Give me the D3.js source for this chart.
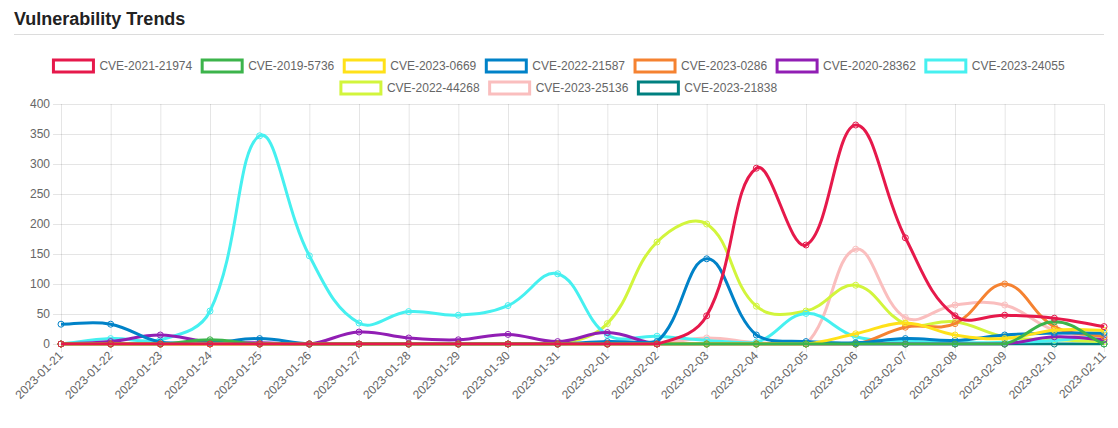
<!DOCTYPE html>
<html>
<head>
<meta charset="utf-8">
<script src="https://cdn.jsdelivr.net/npm/d3@7"></script>
<style>
  body { margin: 0; background: #fff; }
  svg { display: block; font-family: "Liberation Sans", Arial, Helvetica, sans-serif; }
  .axis .domain { display: none; }
  .axis line, .grid line { stroke: rgba(0,0,0,0.1); }
  .grid .domain { display: none; }
</style>
</head>
<body>
<div class="chart"></div>
<script>
/* global d3 */

// categories (x axis)
const dates = ['2023-01-21', '2023-01-22', '2023-01-23', '2023-01-24', '2023-01-25', '2023-01-26',
  '2023-01-27', '2023-01-28', '2023-01-29', '2023-01-30', '2023-01-31', '2023-02-01',
  '2023-02-02', '2023-02-03', '2023-02-04', '2023-02-05', '2023-02-06', '2023-02-07',
  '2023-02-08', '2023-02-09', '2023-02-10', '2023-02-11']

const yTicks = [0, 50, 100, 150, 200, 250, 300, 350, 400]

// series values, one per date
const cve2021_21974 = [0, 0, 0, 0, 0, 0, 0, 0, 0, 0, 0, 0, 0, 47, 293, 165, 365, 177, 47, 48, 43, 29]
const cve2019_5736 = [0, 0, 0, 7, 0, 0, 0, 0, 0, 0, 0, 0, 0, 0, 0, 0, 0, 0, 0, 0, 37, 0]
const cve2023_0669 = [0, 0, 0, 0, 0, 0, 0, 0, 0, 0, 0, 0, 0, 0, 0, 0, 17, 35, 15, 9, 23, 23]
const cve2022_21587 = [33, 33, 3, 2, 9, 0, 0, 0, 0, 0, 0, 4, 4, 142, 15, 4, 2, 9, 6, 15, 18, 18]
const cve2023_0286 = [0, 0, 0, 0, 0, 0, 0, 0, 0, 0, 0, 0, 0, 0, 0, 0, 0, 28, 34, 100, 29, 12]
const cve2020_28362 = [0, 4, 15, 3, 2, 0, 20, 10, 7, 16, 4, 19, 0, 0, 0, 0, 0, 0, 0, 0, 12, 7]
const cve2023_24055 = [0, 9, 7, 55, 347, 147, 35, 54, 48, 64, 117, 15, 13, 6, 3, 51, 12, 5, 2, 3, 6, 15]
const cve2022_44268 = [0, 0, 0, 0, 0, 0, 0, 0, 0, 0, 0, 34, 170, 200, 63, 55, 98, 34, 37, 12, 7, 4]
const cve2023_25136 = [0, 0, 0, 0, 0, 0, 0, 0, 0, 0, 0, 0, 0, 10, 2, 0, 158, 44, 65, 65, 23, 10]
const cve2023_21838 = [0, 0, 0, 0, 0, 0, 0, 0, 0, 0, 0, 0, 0, 0, 0, 0, 0, 0, 0, 0, 0, 0]

const series = [
  { name: 'CVE-2021-21974', values: cve2021_21974, color: '#e6194b' },
  { name: 'CVE-2019-5736', values: cve2019_5736, color: '#3cb44b' },
  { name: 'CVE-2023-0669', values: cve2023_0669, color: '#ffe119' },
  { name: 'CVE-2022-21587', values: cve2022_21587, color: '#0082c8' },
  { name: 'CVE-2023-0286', values: cve2023_0286, color: '#f58231' },
  { name: 'CVE-2020-28362', values: cve2020_28362, color: '#911eb4' },
  { name: 'CVE-2023-24055', values: cve2023_24055, color: '#46f0f0' },
  { name: 'CVE-2022-44268', values: cve2022_44268, color: '#d2f53c' },
  { name: 'CVE-2023-25136', values: cve2023_25136, color: '#fabebe' },
  { name: 'CVE-2023-21838', values: cve2023_21838, color: '#008080' }
]

const fontFamily = '"Liberation Sans", Arial, Helvetica, sans-serif'

const width = 1118
const height = 428
const margins = { top: 104, right: 14, bottom: 84, left: 61 }
const innerWidth = width - margins.left - margins.right
const innerHeight = height - margins.top - margins.bottom

const svg = d3.select('.chart')
  .append('svg')
  .attr('width', width)
  .attr('height', height)

// title + rule
svg.append('text')
  .attr('x', 14)
  .attr('y', 25)
  .attr('font-size', 18)
  .attr('font-weight', 'bold')
  .attr('fill', '#222')
  .text('Vulnerability Trends')

svg.append('line')
  .attr('x1', 14).attr('x2', 1104)
  .attr('y1', 34.5).attr('y2', 34.5)
  .attr('stroke', '#dcdcdc')

// legend, laid out in centered rows like chart.js does
const legend = svg.append('g').attr('class', 'legend')
const pad = 10, boxW = 40, boxH = 12
const items = series.map(s => {
  const t = legend.append('text')
    .attr('font-size', 12)
    .attr('fill', '#666')
    .attr('dominant-baseline', 'middle')
    .text(s.name)
  return { s, t, w: boxW + 6 + t.node().getComputedTextLength() }
})
const rows = [[]]
let rowW = 0
items.forEach((it, i) => {
  if (i > 0 && rowW + it.w + 2 * pad > width) { rows.push([]); rowW = 0 }
  rows[rows.length - 1].push(it)
  rowW += it.w + pad
})
rows.forEach((row, r) => {
  const total = d3.sum(row, d => d.w + pad)
  let x = (pad + width - total) / 2
  const y = 60 + r * 22
  row.forEach(it => {
    legend.append('rect')
      .attr('x', x).attr('y', y)
      .attr('width', boxW).attr('height', boxH)
      .attr('fill', '#fff')
      .attr('stroke', it.s.color)
      .attr('stroke-width', 3)
    it.t.attr('x', x + boxW + 6).attr('y', y + boxH / 2 + 0.5)
    x += it.w + pad
  })
})

const g = svg.append('g')
  .attr('transform', `translate(${margins.left}, ${margins.top})`)

const xScale = d3.scalePoint()
  .domain(dates)
  .range([0, innerWidth])

const yScale = d3.scaleLinear()
  .domain([0, 400])
  .range([innerHeight, 0])

// grids
g.append('g')
  .attr('class', 'grid')
  .call(d3.axisLeft(yScale).tickValues(yTicks).tickSize(-innerWidth).tickFormat(''))
g.append('g')
  .attr('class', 'grid')
  .call(d3.axisTop(xScale).tickSize(-innerHeight).tickFormat(''))

// y axis
g.append('g')
  .attr('class', 'axis axis__y')
  .call(d3.axisLeft(yScale).tickValues(yTicks).tickSize(8).tickPadding(3))
  .attr('font-family', fontFamily)
  .attr('font-size', 12)
  .selectAll('text')
  .attr('fill', '#666')

// x axis, labels rotated 45deg and right-aligned on the tick
g.append('g')
  .attr('class', 'axis axis__x')
  .attr('transform', `translate(0, ${innerHeight})`)
  .call(d3.axisBottom(xScale).tickSize(8).tickPadding(0))
  .attr('font-family', fontFamily)
  .attr('font-size', 12)
  .selectAll('text')
  .attr('fill', '#666')
  .attr('text-anchor', 'end')
  .attr('y', 0)
  .attr('dy', 0)
  .attr('dominant-baseline', 'middle')
  .attr('transform', 'translate(0, 10) rotate(-45)')

// chart.js style spline (tension 0.4, control points capped to chart area)
const tension = 0.4
const splinePath = function(pts) {
  const cap = (v, lo, hi) => Math.max(lo, Math.min(hi, v))
  const cps = pts.map((cur, i) => {
    const prev = pts[i - 1] || cur
    const next = pts[i + 1] || cur
    const d01 = Math.hypot(cur[0] - prev[0], cur[1] - prev[1])
    const d12 = Math.hypot(next[0] - cur[0], next[1] - cur[1])
    let s01 = d01 / (d01 + d12)
    let s12 = d12 / (d01 + d12)
    if (isNaN(s01)) s01 = 0
    if (isNaN(s12)) s12 = 0
    const fa = tension * s01, fb = tension * s12
    return {
      prev: [cap(cur[0] - fa * (next[0] - prev[0]), 0, innerWidth), cap(cur[1] - fa * (next[1] - prev[1]), 0, innerHeight)],
      next: [cap(cur[0] + fb * (next[0] - prev[0]), 0, innerWidth), cap(cur[1] + fb * (next[1] - prev[1]), 0, innerHeight)]
    }
  })
  const p = d3.path()
  p.moveTo(pts[0][0], pts[0][1])
  for (let i = 1; i < pts.length; i++) {
    p.bezierCurveTo(cps[i - 1].next[0], cps[i - 1].next[1], cps[i].prev[0], cps[i].prev[1], pts[i][0], pts[i][1])
  }
  return p.toString()
}

g.append('clipPath').attr('id', 'clip')
  .append('rect')
  .attr('x', -1.5).attr('y', -1.5)
  .attr('width', innerWidth + 3).attr('height', innerHeight + 3)

// first dataset drawn on top
const drawOrder = series.slice().reverse()

const layers = g.selectAll('.series')
  .data(drawOrder)
  .join('g')
  .attr('class', 'series')

layers.append('path')
  .attr('clip-path', 'url(#clip)')
  .attr('fill', 'none')
  .attr('stroke', d => d.color)
  .attr('stroke-width', 3)
  .attr('d', d => splinePath(d.values.map((v, i) => [xScale(dates[i]), yScale(v)])))

layers.selectAll('circle')
  .data(d => d.values.map((v, i) => ({ v, date: dates[i], color: d.color })))
  .join('circle')
  .attr('cx', d => xScale(d.date))
  .attr('cy', d => yScale(d.v))
  .attr('r', 3)
  .attr('fill', 'none')
  .attr('stroke', d => d.color)
  .attr('stroke-width', 1)
</script>
</body>
</html>
